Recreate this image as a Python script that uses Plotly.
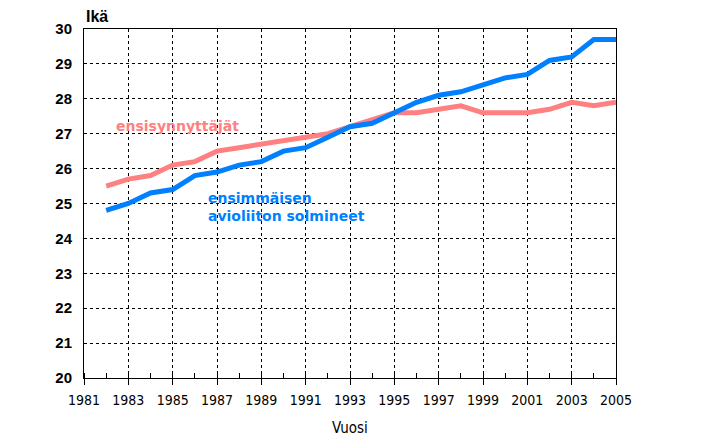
import plotly.graph_objects as go

years = list(range(1982, 2006))
ensisynnyttajat = [25.5, 25.7, 25.8, 26.1, 26.2, 26.5, 26.6, 26.7, 26.8, 26.9, 27.0, 27.2,
                   27.4, 27.6, 27.6, 27.7, 27.8, 27.6, 27.6, 27.6, 27.7, 27.9, 27.8, 27.9]
avioliitto = [24.8, 25.0, 25.3, 25.4, 25.8, 25.9, 26.1, 26.2, 26.5, 26.6, 26.9, 27.2,
              27.3, 27.6, 27.9, 28.1, 28.2, 28.4, 28.6, 28.7, 29.1, 29.2, 29.7, 29.7]
x_ticks = list(range(1981, 2006, 2))
y_ticks = list(range(20, 31))

pink = "#FF8080"
blue = "#0080FF"

fig = go.Figure()
fig.add_trace(go.Scatter(x=years, y=ensisynnyttajat, mode="lines",
                         line=dict(color=pink, width=5), hoverinfo="x+y"))
fig.add_trace(go.Scatter(x=years, y=avioliitto, mode="lines",
                         line=dict(color=blue, width=5), hoverinfo="x+y"))

fig.update_layout(
    width=693, height=432,
    margin=dict(l=76, r=85, t=19, b=62),
    paper_bgcolor="white", plot_bgcolor="white",
    showlegend=False,
    font=dict(family="Arial, Liberation Sans, sans-serif", color="black"),
)

fig.update_xaxes(
    range=[1981, 2005], tickmode="array", tickvals=x_ticks,
    ticktext=[str(v) for v in x_ticks],
    ticks="outside", ticklen=6, tickcolor="black", tickwidth=1,
    tickfont=dict(size=14, family="Liberation Sans Narrow, DejaVu Sans Condensed, Arial"),
    ticklabelstandoff=3,
    showgrid=True, gridcolor="black", gridwidth=1, griddash="3px,3px",
    showline=True, linecolor="black", linewidth=1, mirror=True,
    minor=dict(dtick=1, tick0=1981, ticks="inside", ticklen=5, tickcolor="black", showgrid=False),
    zeroline=False,
)
fig.update_yaxes(
    range=[20, 30], tickmode="array", tickvals=y_ticks,
    ticks="", tickfont=dict(size=15, family="Arial, Liberation Sans", weight="bold"),
    ticklabelstandoff=8,
    showgrid=True, gridcolor="black", gridwidth=1, griddash="3px,3px",
    showline=True, linecolor="black", linewidth=1, mirror=True,
    zeroline=False,
)

fig.add_annotation(text="<b>Ikä</b>", xref="paper", yref="paper", x=0, y=1,
                   xanchor="left", yanchor="middle", yshift=13, showarrow=False,
                   font=dict(size=16, color="black"))
fig.add_annotation(text="Vuosi", xref="paper", yref="paper", x=0.5, y=0,
                   xanchor="center", yanchor="middle", yshift=-50, showarrow=False,
                   font=dict(size=15, color="black", family="Liberation Sans Narrow, DejaVu Sans Condensed, Arial"))
fig.add_annotation(text="<b>ensisynnyttäjät</b>", x=1982.36, y=27.21,
                   xanchor="left", yanchor="middle", showarrow=False,
                   font=dict(size=14, color=pink, family="DejaVu Sans, Arial"))
fig.add_annotation(text="<b>ensimmäisen<br>avioliiton solmineet</b>", x=1986.51, y=24.9,
                   xanchor="left", yanchor="middle", align="left", showarrow=False,
                   font=dict(size=14, color=blue, family="DejaVu Sans, Arial"))

fig.write_html("out.html")
